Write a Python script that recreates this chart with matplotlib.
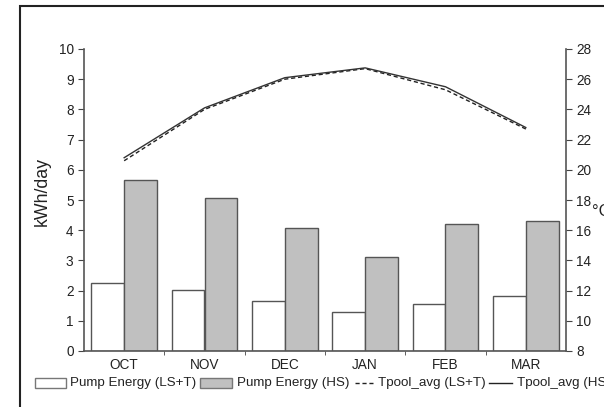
import matplotlib
matplotlib.use("Agg")
import matplotlib.pyplot as plt
from matplotlib.patches import Rectangle
from matplotlib.lines import Line2D
import numpy as np

plt.rcParams['font.family'] = ['Liberation Sans', 'DejaVu Sans']

months = ["OCT", "NOV", "DEC", "JAN", "FEB", "MAR"]
pump_lst = [2.24, 2.01, 1.66, 1.28, 1.55, 1.81]
pump_hs = [5.66, 5.06, 4.08, 3.12, 4.22, 4.31]
tpool_lst = [20.6, 24.0, 26.0, 26.7, 25.3, 22.7]
tpool_hs = [20.8, 24.1, 26.1, 26.75, 25.5, 22.8]
legend_labels = ["Pump Energy (LS+T)", "Pump Energy (HS)", "Tpool_avg (LS+T)", "Tpool_avg (HS)"]

W, H = 604, 407
fig = plt.figure(figsize=(W/100, H/100), dpi=100)
ax = fig.add_axes([84/W, 1-351/H, (566-84)/W, (351-49)/H])

x = np.arange(1, len(months)+1)
w = 0.41
edge = '#555555'
ax.bar(x - w/2, pump_lst, w, color='white', edgecolor=edge, linewidth=1.0, zorder=2)
ax.bar(x + w/2, pump_hs, w, color='#c0c0c0', edgecolor=edge, linewidth=1.0, zorder=2)

ax.set_xlim(0.5, 6.5)
ax.set_ylim(0, 10)
ax.set_yticks(range(0, 11))
ax.set_xticks(x)
ax.set_xticklabels(months)
ax.set_xticks(np.arange(1.5, 6.5, 1), minor=True)
ax.tick_params(axis='x', which='major', length=0, labelsize=9.8, pad=5, colors='#222222')
ax.tick_params(axis='x', which='minor', length=3, direction='out', color='#444444')
ax.tick_params(axis='y', length=4, labelsize=9.8, colors='#222222', color='#444444')
ax.set_ylabel("kWh/day", fontsize=12.8, color='#222222')
ax.yaxis.set_label_coords((51-84)/(566-84), (351-192)/(351-49))
for s in ['top', 'right']:
    ax.spines[s].set_visible(False)
for s in ['left', 'bottom']:
    ax.spines[s].set_color('#555555')
    ax.spines[s].set_linewidth(1.2)

ax2 = ax.twinx()
ax2.plot(x, tpool_lst, color='#222222', linestyle=(0, (3, 2)), linewidth=1.0, zorder=3)
ax2.plot(x, tpool_hs, color='#333333', linestyle='-', linewidth=1.0, zorder=3)
ax2.set_ylim(8, 28)
ax2.set_yticks(range(8, 29, 2))
ax2.tick_params(axis='y', length=4, labelsize=9.8, colors='#222222', color='#444444')
for s in ['top', 'left', 'bottom']:
    ax2.spines[s].set_visible(False)
ax2.spines['right'].set_color('#555555')
ax2.spines['right'].set_linewidth(1.2)
fig.text(592/W, 1-212/H, "°C", fontsize=12, va='center', ha='left', color='#222222')

# outer frame
fig.patches.append(Rectangle((20/W, -0.05), 1.2, 1-6/H+0.05, transform=fig.transFigure,
                             fill=False, edgecolor='#222222', linewidth=1.5))

# legend row (manually laid out, cut off at the right edge like the reference)
ly = 1-383/H
fs = 9.6
fig.patches.append(Rectangle((35/W, 1-388/H), 31/W, 10/H, transform=fig.transFigure,
                             facecolor='white', edgecolor='#777777', linewidth=1.0))
fig.text(70/W, ly, legend_labels[0], fontsize=fs, va='center', ha='left', color='#222222')
fig.patches.append(Rectangle((200/W, 1-388/H), 32/W, 10/H, transform=fig.transFigure,
                             facecolor='#c0c0c0', edgecolor='#777777', linewidth=1.0))
fig.text(237/W, ly, legend_labels[1], fontsize=fs, va='center', ha='left', color='#222222')
fig.lines.append(Line2D([355/W, 373/W], [ly, ly], transform=fig.transFigure,
                        color='#222222', linestyle=(0, (3, 2)), linewidth=1.0))
fig.text(378/W, ly, legend_labels[2], fontsize=fs, va='center', ha='left', color='#222222')
fig.lines.append(Line2D([489/W, 512/W], [ly, ly], transform=fig.transFigure,
                        color='#222222', linestyle='-', linewidth=1.0))
fig.text(517/W, ly, legend_labels[3], fontsize=fs, va='center', ha='left', color='#222222')

fig.savefig("out.png", dpi=100)
